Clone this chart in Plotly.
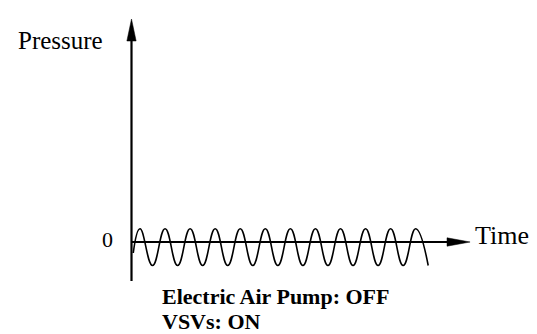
import plotly.graph_objects as go

# Oscillating pressure trace: alternating peaks and troughs over time
# (time in cycles, pressure in arbitrary units; 0 = reference line)
wave_time = [0.07,
             0.339, 0.839, 1.339, 1.839, 2.339, 2.839, 3.339, 3.839,
             4.339, 4.839, 5.339, 5.839, 6.339, 6.839, 7.339, 7.839,
             8.339, 8.839, 9.339, 9.839, 10.339, 10.839, 11.339, 11.839]
wave_pressure = [-1.1,
                 1.33, -2.35, 1.33, -2.35, 1.33, -2.35, 1.33, -2.35,
                 1.33, -2.35, 1.33, -2.35, 1.33, -2.35, 1.33, -2.35,
                 1.33, -2.35, 1.33, -2.35, 1.33, -2.35, 1.33, -2.35]

y_label = "Pressure"
x_label = "Time"
zero_label = "0"
caption_lines = ["Electric Air Pump: OFF", "VSVs: ON"]

# axis extents (data units)
x_axis_end = 13.51
y_axis_bottom = -3.9
y_axis_top = 22.3

SERIF = "Liberation Serif, Times New Roman, serif"
INK = "black"

fig = go.Figure()

# vertical (pressure) axis line
fig.add_trace(go.Scatter(x=[0, 0], y=[y_axis_bottom, y_axis_top - 2.0],
                         mode="lines", line=dict(color=INK, width=2.2),
                         hoverinfo="skip", showlegend=False))
# vertical arrowhead
fig.add_trace(go.Scatter(x=[-0.185, 0.185, 0, -0.185],
                         y=[y_axis_top - 2.2, y_axis_top - 2.2, y_axis_top, y_axis_top - 2.2],
                         mode="lines", fill="toself", fillcolor=INK,
                         line=dict(color=INK, width=0.5),
                         hoverinfo="skip", showlegend=False))
# horizontal (time) axis line
fig.add_trace(go.Scatter(x=[-0.02, x_axis_end - 0.8], y=[0, 0],
                         mode="lines", line=dict(color=INK, width=2.2),
                         hoverinfo="skip", showlegend=False))
# horizontal arrowhead
fig.add_trace(go.Scatter(x=[x_axis_end - 0.92, x_axis_end - 0.92, x_axis_end, x_axis_end - 0.92],
                         y=[-0.42, 0.42, 0, -0.42],
                         mode="lines", fill="toself", fillcolor=INK,
                         line=dict(color=INK, width=0.5),
                         hoverinfo="skip", showlegend=False))

# pressure oscillation
fig.add_trace(go.Scatter(x=wave_time, y=wave_pressure, mode="lines",
                         line=dict(color=INK, width=1.6, shape="spline", smoothing=1.3),
                         hoverinfo="skip", showlegend=False))

annotations = [
    dict(x=-4.6, y=20.2, text=y_label, xanchor="left", yanchor="middle",
         font=dict(family=SERIF, size=25, color=INK)),
    dict(x=-0.94, y=0.25, text=zero_label, xanchor="center", yanchor="middle",
         font=dict(family=SERIF, size=22, color=INK)),
    dict(x=13.63, y=0.7, text=x_label, xanchor="left", yanchor="middle",
         font=dict(family=SERIF, size=26, color=INK)),
    dict(x=1.12, y=-5.47, text="<b>" + caption_lines[0] + "</b>", xanchor="left", yanchor="middle",
         font=dict(family=SERIF, size=22, color=INK)),
    dict(x=1.12, y=-7.93, text="<b>" + caption_lines[1] + "</b>", xanchor="left", yanchor="middle",
         font=dict(family=SERIF, size=22, color=INK)),
]
for a in annotations:
    a.update(xref="x", yref="y", showarrow=False)

fig.update_layout(
    width=537, height=334,
    margin=dict(l=0, r=0, t=0, b=0),
    paper_bgcolor="white", plot_bgcolor="white",
    xaxis=dict(range=[-5.247, 16.18], visible=False, fixedrange=True),
    yaxis=dict(range=[-9.2, 24.2], visible=False, fixedrange=True),
    annotations=annotations,
    showlegend=False,
)

fig.write_html("out.html")
